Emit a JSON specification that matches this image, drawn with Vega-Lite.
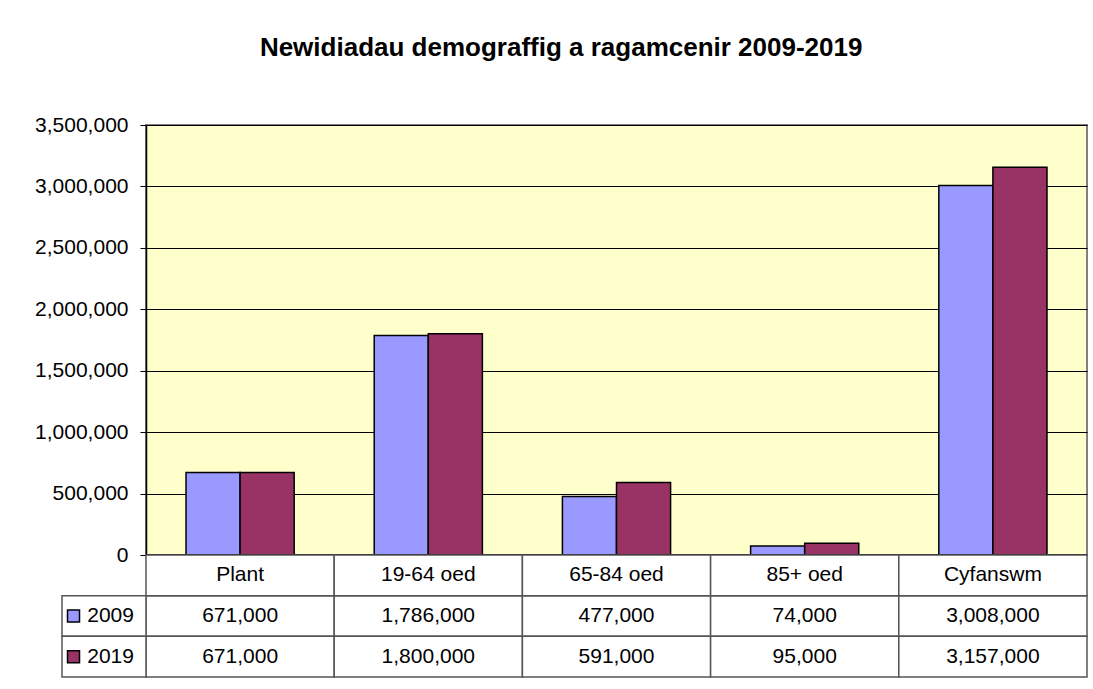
{
  "$schema": "https://vega.github.io/schema/vega-lite/v6.json",
  "background": "white",
  "padding": {"left": 33, "top": 35, "right": 4, "bottom": 8},
  "title": {"text": "Newidiadau demograffig a ragamcenir 2009-2019", "font": "Liberation Sans", "fontSize": 26, "fontWeight": "bold", "color": "black", "anchor": "middle", "offset": 52},
  "config": {"font": "Liberation Sans", "view": {"stroke": null}},
  "data": {"values": [
    {"category": "Plant", "year": "2009", "value": 671000},
    {"category": "Plant", "year": "2019", "value": 671000},
    {"category": "19-64 oed", "year": "2009", "value": 1786000},
    {"category": "19-64 oed", "year": "2019", "value": 1800000},
    {"category": "65-84 oed", "year": "2009", "value": 477000},
    {"category": "65-84 oed", "year": "2019", "value": 591000},
    {"category": "85+ oed", "year": "2009", "value": 74000},
    {"category": "85+ oed", "year": "2019", "value": 95000},
    {"category": "Cyfanswm", "year": "2009", "value": 3008000},
    {"category": "Cyfanswm", "year": "2019", "value": 3157000}
  ]},
  "spacing": 0,
  "bounds": "flush",
  "vconcat": [
    {
      "width": 941,
      "height": 430,
      "view": {"fill": "#FFFFCC", "stroke": "#808080", "strokeWidth": 2},
      "encoding": {
        "x": {"field": "category", "type": "nominal", "sort": ["Plant", "19-64 oed", "65-84 oed", "85+ oed", "Cyfanswm"], "scale": {"paddingInner": 0, "paddingOuter": 0}, "axis": null},
        "y": {"field": "value", "type": "quantitative", "scale": {"domain": [0, 3500000]}, "axis": {"values": [0, 500000, 1000000, 1500000, 2000000, 2500000, 3000000, 3500000], "format": ",d", "title": null, "labelFontSize": 21, "labelColor": "black", "labelFont": "Liberation Sans", "gridColor": "black", "gridOpacity": 1, "gridWidth": 1, "tickColor": "black", "tickSize": 6, "labelPadding": 12, "domainColor": "black", "domainWidth": 1.5}}
      },
      "layer": [
        {
          "mark": {"type": "bar", "stroke": "black", "strokeWidth": 1.5},
          "encoding": {
            "xOffset": {"field": "year", "type": "nominal", "scale": {"paddingInner": 0, "paddingOuter": 0.74}},
            "color": {"field": "year", "type": "nominal", "scale": {"domain": ["2009", "2019"], "range": ["#9999FF", "#993366"]}, "legend": null}
          }
        },
        {
          "mark": {"type": "rule", "color": "black", "strokeWidth": 1.5},
          "encoding": {
            "x": {"value": 0},
            "x2": {"value": "width"},
            "y": {"datum": 0}
          }
        }
      ]
    },
    {
      "width": 941,
      "height": 122,
      "resolve": {"scale": {"x": "independent"}},
      "layer": [
        {
          "mark": {"type": "rect", "fill": "white", "stroke": "#555555", "strokeWidth": 1.5},
          "encoding": {
            "x": {"field": "category", "type": "nominal", "sort": ["Plant", "19-64 oed", "65-84 oed", "85+ oed", "Cyfanswm"], "scale": {"paddingInner": 0, "paddingOuter": 0}, "axis": null},
            "y": {"field": "year", "type": "nominal", "scale": {"domain": ["hdr", "2009", "2019"], "paddingInner": 0, "paddingOuter": 0}, "axis": null}
          }
        },
        {
          "transform": [{"filter": "datum.year == '2009'"}],
          "mark": {"type": "rect", "fill": "white", "stroke": "#555555", "strokeWidth": 1.5},
          "encoding": {
            "x": {"field": "category", "type": "nominal", "sort": ["Plant", "19-64 oed", "65-84 oed", "85+ oed", "Cyfanswm"], "scale": {"paddingInner": 0, "paddingOuter": 0}, "axis": null},
            "y": {"datum": "hdr", "type": "nominal"}
          }
        },
        {
          "mark": {"type": "text", "fontSize": 21, "color": "black", "font": "Liberation Sans"},
          "encoding": {
            "x": {"field": "category", "type": "nominal", "sort": ["Plant", "19-64 oed", "65-84 oed", "85+ oed", "Cyfanswm"], "scale": {"paddingInner": 0, "paddingOuter": 0}, "axis": null},
            "y": {"field": "year", "type": "nominal"},
            "text": {"field": "value", "type": "quantitative", "format": ","}
          }
        },
        {
          "transform": [{"filter": "datum.year == '2009'"}],
          "mark": {"type": "text", "fontSize": 21, "color": "black", "font": "Liberation Sans"},
          "encoding": {
            "x": {"field": "category", "type": "nominal", "sort": ["Plant", "19-64 oed", "65-84 oed", "85+ oed", "Cyfanswm"], "scale": {"paddingInner": 0, "paddingOuter": 0}, "axis": null},
            "y": {"datum": "hdr", "type": "nominal"},
            "text": {"field": "category", "type": "nominal"}
          }
        },
        {
          "transform": [{"filter": "datum.category == 'Plant'"}],
          "mark": {"type": "rect", "fill": "white", "stroke": "#555555", "strokeWidth": 1.5},
          "encoding": {
            "x": {"datum": 0, "type": "quantitative", "scale": {"domain": [0, 1], "range": [-84, 0]}, "axis": null},
            "x2": {"datum": 1},
            "y": {"field": "year", "type": "nominal"}
          }
        },
        {
          "transform": [{"filter": "datum.category == 'Plant'"}],
          "mark": {"type": "square", "size": 144, "filled": true, "stroke": "black", "strokeWidth": 1.5, "opacity": 1},
          "encoding": {
            "x": {"datum": 0.137, "type": "quantitative", "scale": {"domain": [0, 1], "range": [-84, 0]}, "axis": null},
            "y": {"field": "year", "type": "nominal"},
            "color": {"field": "year", "type": "nominal", "scale": {"domain": ["2009", "2019"], "range": ["#9999FF", "#993366"]}, "legend": null}
          }
        },
        {
          "transform": [{"filter": "datum.category == 'Plant'"}],
          "mark": {"type": "text", "fontSize": 21, "color": "black", "align": "left", "font": "Liberation Sans"},
          "encoding": {
            "x": {"datum": 0.3, "type": "quantitative", "scale": {"domain": [0, 1], "range": [-84, 0]}, "axis": null},
            "y": {"field": "year", "type": "nominal"},
            "text": {"field": "year", "type": "nominal"}
          }
        }
      ]
    }
  ]
}
